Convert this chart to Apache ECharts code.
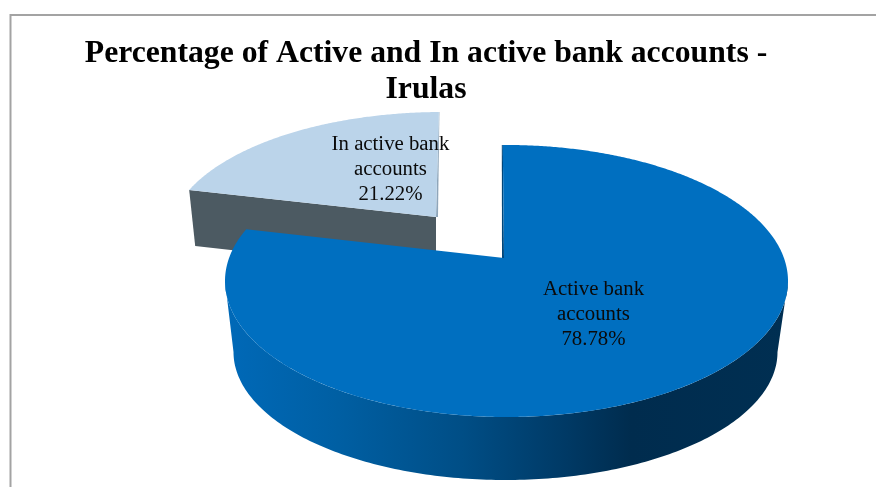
<!DOCTYPE html>
<html>
<head>
<meta charset="utf-8">
<title>Active and inactive bank accounts</title>
<script src="https://cdn.jsdelivr.net/npm/echarts@6/dist/echarts.min.js"></script>
<style>
  html, body { margin: 0; padding: 0; background: #fff; }
  #chart { width: 876px; height: 487px; }
</style>
</head>
<body>
<div id="chart"></div>
<script>
const titleLines = ['Percentage of Active and In active bank accounts -', 'Irulas'];
const categories = ['Active bank\naccounts', 'In active bank\naccounts'];
const shares = [78.78, 21.22];

const SERIF = '"Liberation Serif", "Times New Roman", serif';

// First slice begins a hair before twelve o'clock.
const START_ANGLE = -0.9 * Math.PI / 180;

// How each exploded slice sits on the page: the rim ellipse, the lower rim
// of the wall, the pivot of the slice and where its label goes.
const layouts = [
  {
    rim: { cx: 506.5, cy: 281, rx: 281.5, ry: 136 },
    base: { cx: 505.5, cy: 352, rx: 272, ry: 128 },
    pivot: [504, 258],
    labelAt: [593.5, 315],
    top: '#006FC0',
    z: 3
  },
  {
    rim: { cx: 442.5, cy: 238, rx: 274, ry: 126 },
    depth: 56,
    pivot: [436, 217],
    labelAt: [390.5, 170],
    top: '#BBD4EA',
    z: 1
  }
];

// Perspective tilt: the pie's centre appears this far above the ellipse centre
// (as a fraction of the vertical radius).
const TILT = 0.176;

// Maps a clockwise angle from twelve o'clock onto the tilted rim ellipse.
function rimPoint(rim, angle) {
  const sx = Math.sin(angle), cy = Math.cos(angle);
  const d = 1 + TILT * cy;
  return [
    rim.cx + rim.rx * sx * Math.sqrt(1 - TILT * TILT) / d,
    rim.cy - rim.ry * (cy + TILT) / d
  ];
}

function sweep(rim, from, to) {
  const pts = [];
  const steps = Math.max(8, Math.ceil(Math.abs(to - from) * 120));
  for (let i = 0; i <= steps; i++) {
    pts.push(rimPoint(rim, from + (to - from) * i / steps));
  }
  return pts;
}

function frontWall(rim, base) {
  const upper = [], lower = [];
  for (let deg = 0; deg <= 180; deg++) {
    const a = deg * Math.PI / 180;
    upper.push([rim.cx + rim.rx * Math.cos(a), rim.cy + rim.ry * Math.sin(a)]);
    lower.unshift([base.cx + base.rx * Math.cos(a), base.cy + base.ry * Math.sin(a)]);
  }
  return upper.concat(lower);
}

const wallShade = {
  type: 'linear', x: 225, y: 0, x2: 789, y2: 0, global: true,
  colorStops: [
    { offset: 0, color: '#0069B8' },
    { offset: 0.2, color: '#005FA3' },
    { offset: 0.42, color: '#004E86' },
    { offset: 0.6, color: '#003A66' },
    { offset: 0.72, color: '#002C4E' },
    { offset: 1, color: '#002F52' }
  ]
};

function renderSlice(params, api) {
  const i = params.dataIndex;
  const layout = layouts[i];
  const total = shares.reduce((a, b) => a + b, 0);
  const before = shares.slice(0, i).reduce((a, b) => a + b, 0);
  const start = START_ANGLE + before / total * Math.PI * 2;
  const end = START_ANGLE + (before + api.value(0)) / total * Math.PI * 2;
  const edge = sweep(layout.rim, start, end);
  const z = layout.z;
  const children = [];

  if (layout.base) {
    // Rounded front wall, plus the sliver of cut face beside the gap.
    children.push({
      type: 'polygon', z2: z,
      shape: { points: frontWall(layout.rim, layout.base) },
      style: { fill: wallShade }
    });
    const head = edge[0];
    children.push({
      type: 'polygon', z2: z,
      shape: { points: [[head[0] - 1, head[1]], [layout.pivot[0] - 2, layout.pivot[1]], [layout.pivot[0], layout.pivot[1]], [head[0], head[1]]] },
      style: { fill: '#00467A' }
    });
  } else {
    // Flat cut face running from the pivot out to the rim.
    const far = edge[0];
    children.push({
      type: 'polygon', z2: z,
      shape: {
        points: [
          layout.pivot, far,
          [far[0] + 6, far[1] + layout.depth],
          [layout.pivot[0], layout.pivot[1] + layout.depth]
        ]
      },
      style: { fill: '#4C5A62' }
    });
    const tip = edge[edge.length - 1];
    children.push({
      type: 'polygon', z2: z,
      shape: { points: [tip, [tip[0] + 0.5, tip[1]], [layout.pivot[0] + 2, layout.pivot[1]], layout.pivot] },
      style: { fill: '#8FA6BA' }
    });
  }

  children.push({
    type: 'polygon', z2: z + 1,
    shape: { points: [layout.pivot].concat(edge) },
    style: { fill: layout.top }
  });

  children.push({
    type: 'text', z2: 10,
    x: layout.labelAt[0], y: layout.labelAt[1],
    style: {
      text: categories[i] + '\n' + api.value(0).toFixed(2) + '%',
      fill: '#0A0A0A',
      font: '20.8px ' + SERIF,
      lineHeight: 25,
      align: 'center',
      verticalAlign: 'middle'
    }
  });

  return { type: 'group', children };
}

const chart = echarts.init(document.getElementById('chart'), null, { renderer: 'canvas' });
chart.setOption({
  animation: false,
  backgroundColor: '#fff',
  title: {
    text: titleLines.join('\n'),
    left: 421,
    top: 31,
    textAlign: 'center',
    textStyle: {
      fontFamily: SERIF,
      fontWeight: 'bold',
      fontSize: 31.7,
      lineHeight: 36,
      color: '#000'
    }
  },
  graphic: [{
    type: 'polyline',
    silent: true,
    shape: { points: [[10.5, 490], [10.5, 15], [880, 15]] },
    style: { stroke: '#A3A3A3', lineWidth: 2, fill: null }
  }],
  series: [{
    type: 'custom',
    coordinateSystem: 'none',
    renderItem: renderSlice,
    data: shares,
    silent: true
  }]
});
</script>
</body>
</html>
